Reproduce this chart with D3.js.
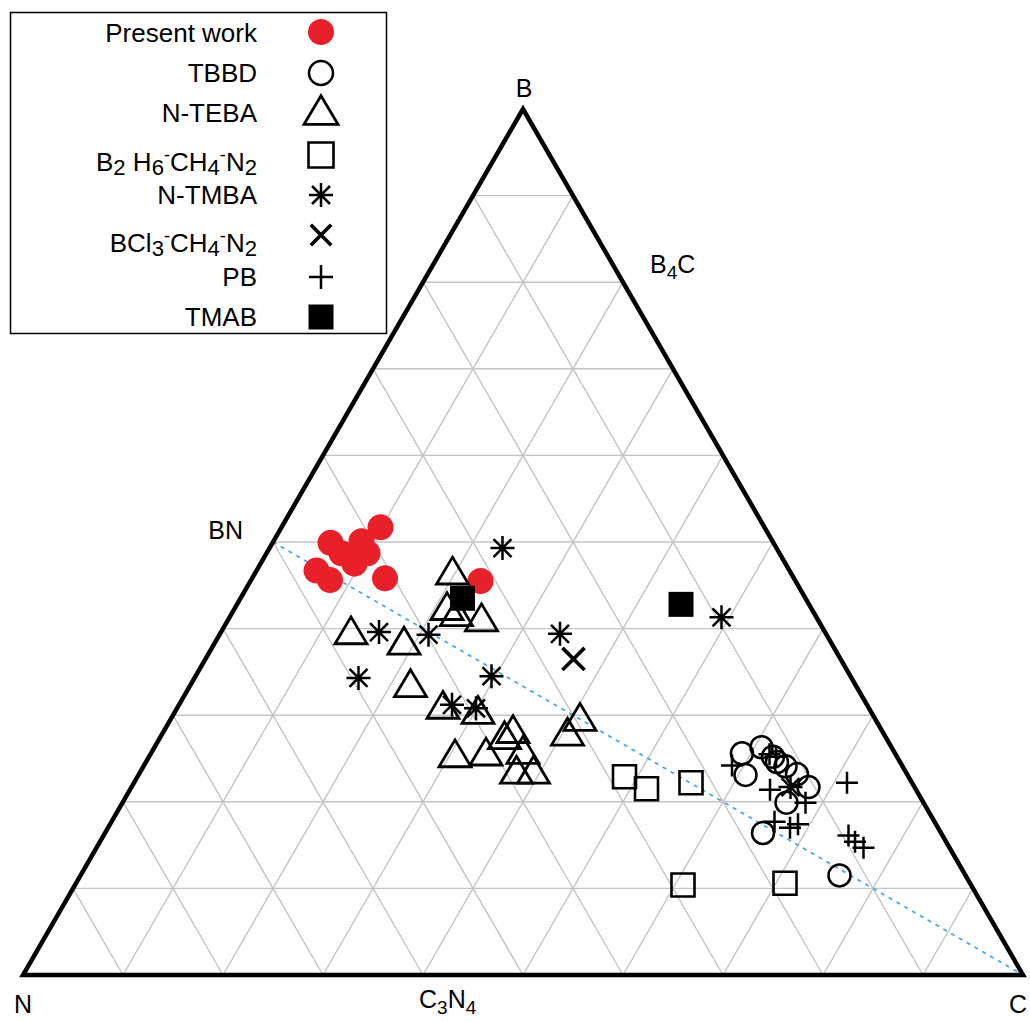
<!DOCTYPE html>
<html>
<head>
<meta charset="utf-8">
<script src="https://cdn.jsdelivr.net/npm/d3@7/dist/d3.min.js"></script>
<style>
  body { margin: 0; background: #fff; }
  text { font-family: "Liberation Sans", Arial, sans-serif; fill: #000; }
</style>
</head>
<body>
<div id="chart"></div>
<script>
// compositions, [B at.%, C at.%] (N is the rest)
const presentWork = [[51.7, 9.9], [49.9, 5.8], [50.1, 8.8], [48.7, 7.5], [48.7, 10.1], [47.5, 9.4],
  [46.7, 6.0], [45.6, 7.9], [45.8, 13.3], [45.5, 23.0], [48.3, 8.6]]
const tbbd = [[25.6, 59.1], [26.3, 60.7], [23.1, 60.7], [25.2, 62.4], [24.6, 63.1], [24.1, 64.2],
  [23.2, 65.8], [21.7, 67.7], [19.9, 66.4], [16.4, 65.8], [11.5, 75.9]]
const nteba = [[46.7, 19.6], [42.6, 21.1], [41.9, 22.4], [41.3, 25.2], [39.8, 12.9], [38.6, 18.8],
  [33.7, 21.9], [31.2, 26.4], [30.6, 30.2], [27.7, 34.3], [28.4, 34.8], [25.6, 30.4], [25.8, 33.4],
  [26.0, 37.0], [23.7, 37.5], [23.7, 39.2], [29.8, 40.8], [28.1, 40.4]]
const b2h6 = [[22.9, 48.7], [21.5, 51.6], [22.2, 55.7], [10.4, 60.8], [10.6, 70.9]]
const ntmba = [[49.3, 23.3], [39.6, 15.8], [39.3, 20.9], [34.3, 16.4], [34.5, 29.6], [31.2, 27.3],
  [30.8, 29.9], [39.4, 34.0], [41.3, 49.2], [21.7, 65.9]]
const bcl3 = [[36.5, 36.8]]
const pb = [[24.2, 58.8], [25.5, 61.9], [25.2, 62.7], [21.4, 64.0], [19.9, 68.3], [17.7, 66.3],
  [17.0, 68.2], [17.4, 68.8], [22.2, 71.3], [16.1, 74.5], [15.4, 75.5], [14.7, 76.7]]
const tmab = [[43.5, 22.2], [42.8, 44.4]]

// legend labels: [text, style] pieces, "sub" / "sup" pieces get shifted
const legendLabels = [
  [["Present work", ""]],
  [["TBBD", ""]],
  [["N-TEBA", ""]],
  [["B", ""], ["2", "sub"], [" H", ""], ["6", "sub"], ["-", "sup"], ["CH", ""], ["4", "sub"], ["-", "sup"], ["N", ""], ["2", "sub"]],
  [["N-TMBA", ""]],
  [["BCl", ""], ["3", "sub"], ["-", "sup"], ["CH", ""], ["4", "sub"], ["-", "sup"], ["N", ""], ["2", "sub"]],
  [["PB", ""]],
  [["TMAB", ""]]
]

const W = 1030, H = 1022
const svg = d3.select("#chart").append("svg")
  .attr("width", W).attr("height", H)

// ternary mapping: y from B, x from C + B/2
const yScale = d3.scaleLinear().domain([0, 100]).range([975, 109])
const xScale = d3.scaleLinear().domain([0, 100]).range([23, 1023])
const px = (b, c) => xScale(c + b / 2)
const py = (b) => yScale(b)

// grid lines every 10 %
const grid = svg.append("g").attr("stroke", "#c4c4c4").attr("stroke-width", 1.4)
for (let k = 10; k < 100; k += 10) {
  const segs = [
    [[k, 0], [k, 100 - k]],        // constant B
    [[0, k], [100 - k, k]],        // constant C
    [[0, 100 - k], [100 - k, 0]]   // constant N
  ]
  segs.forEach(s => {
    grid.append("line")
      .attr("x1", px(s[0][0], s[0][1])).attr("y1", py(s[0][0]))
      .attr("x2", px(s[1][0], s[1][1])).attr("y2", py(s[1][0]))
  })
}

// BN - C tie line
svg.append("line")
  .attr("x1", px(50, 0)).attr("y1", py(50))
  .attr("x2", px(0, 100)).attr("y2", py(0))
  .attr("stroke", "#45a6e6").attr("stroke-width", 1.8)
  .attr("stroke-dasharray", "4,5")

// outer triangle
const corners = [[0, 0], [100, 0], [0, 100]]
svg.append("path")
  .attr("d", d3.line()(corners.map(d => [px(d[0], d[1]), py(d[0])])) + "Z")
  .attr("fill", "none").attr("stroke", "#000").attr("stroke-width", 4.5)
  .attr("stroke-linejoin", "miter")

// marker paths
function markerPath(type, s) {
  const p = d3.path()
  const h = s / 2
  if (type === "circle") {
    p.moveTo(h, 0); p.arc(0, 0, h, 0, 2 * Math.PI)
  } else if (type === "triangle") {
    const th = s * 0.84
    p.moveTo(0, -th / 2); p.lineTo(h, th / 2); p.lineTo(-h, th / 2); p.closePath()
  } else if (type === "square") {
    p.rect(-h, -h, s, s)
  } else if (type === "asterisk") {
    const d = h * 0.75
    p.moveTo(0, -h); p.lineTo(0, h)
    p.moveTo(-h, 0); p.lineTo(h, 0)
    p.moveTo(-d, -d); p.lineTo(d, d)
    p.moveTo(-d, d); p.lineTo(d, -d)
  } else if (type === "x") {
    const d = h * 0.85
    p.moveTo(-d, -d); p.lineTo(d, d)
    p.moveTo(-d, d); p.lineTo(d, -d)
  } else if (type === "plus") {
    p.moveTo(0, -h); p.lineTo(0, h)
    p.moveTo(-h, 0); p.lineTo(h, 0)
  }
  return p.toString()
}

const series = [
  {name: "Present work", data: presentWork, type: "circle", size: 26, fill: "#e8202a", stroke: "none", sw: 0},
  {name: "TBBD", data: tbbd, type: "circle", size: 22, fill: "none", stroke: "#000", sw: 2.5},
  {name: "N-TEBA", data: nteba, type: "triangle", size: 32, fill: "none", stroke: "#000", sw: 2.8},
  {name: "B2H6", data: b2h6, type: "square", size: 23, fill: "none", stroke: "#000", sw: 2.6},
  {name: "N-TMBA", data: ntmba, type: "asterisk", size: 24, fill: "none", stroke: "#000", sw: 2.5},
  {name: "BCl3", data: bcl3, type: "x", size: 26, fill: "none", stroke: "#000", sw: 3.6},
  {name: "PB", data: pb, type: "plus", size: 22, fill: "none", stroke: "#000", sw: 2.5},
  {name: "TMAB", data: tmab, type: "square", size: 25, fill: "#000", stroke: "none", sw: 0}
]

const marks = svg.append("g")
series.forEach(s => {
  marks.append("g").selectAll("path")
    .data(s.data)
    .enter().append("path")
    .attr("transform", d => "translate(" + px(d[0], d[1]) + "," + py(d[0]) + ")")
    .attr("d", markerPath(s.type, s.size))
    .attr("fill", s.fill).attr("stroke", s.stroke).attr("stroke-width", s.sw)
})

// helper for text with subscripts
function richText(g, pieces, fs) {
  let shift = 0
  pieces.forEach(pc => {
    const target = pc[1] === "sub" ? fs * 0.15 : pc[1] === "sup" ? -fs * 0.38 : 0
    const t = g.append("tspan").text(pc[0]).attr("dy", target - shift)
    if (pc[1] === "sub") t.attr("font-size", fs * 0.85)
    if (pc[1] === "sup") t.attr("font-size", fs * 0.7)
    shift = target
  })
}

// vertex labels
const fsL = 25
svg.append("text").attr("x", 524).attr("y", 97).attr("text-anchor", "middle")
  .attr("font-size", fsL).text("B")
svg.append("text").attr("x", 243).attr("y", 539).attr("text-anchor", "end")
  .attr("font-size", fsL).text("BN")
svg.append("text").attr("x", 14).attr("y", 1013).attr("font-size", fsL).text("N")
svg.append("text").attr("x", 1009).attr("y", 1013).attr("font-size", fsL).text("C")

function subLabel(x, y, parts) {
  const t = svg.append("text").attr("x", x).attr("y", y).attr("font-size", fsL)
  parts.forEach(pc => {
    const ts = t.append("tspan").text(pc[0]).attr("dy", pc[1])
    if (pc[2]) ts.attr("font-size", 19)
  })
}
subLabel(650, 273, [["B", 0, false], ["4", 6, true], ["C", -6, false]])
subLabel(419, 1008, [["C", 0, false], ["3", 6, true], ["N", -6, false], ["4", 6, true]])

// legend
const legend = svg.append("g")
legend.append("rect")
  .attr("x", 10.5).attr("y", 12.5).attr("width", 376).attr("height", 321)
  .attr("fill", "#fff").attr("stroke", "#000").attr("stroke-width", 1.5)

const legendSym = [32, 73, 110, 155, 195, 235, 277, 317]
const legendBase = [42, 82, 122, 171, 204, 252, 286, 326]
const legendSize = [26, 24, 34, 25, 24, 24, 24, 25]
series.forEach((s, i) => {
  legend.append("path")
    .attr("transform", "translate(321," + legendSym[i] + ")")
    .attr("d", markerPath(s.type, legendSize[i]))
    .attr("fill", s.fill).attr("stroke", s.stroke).attr("stroke-width", s.sw)
  const t = legend.append("text")
    .attr("x", 257).attr("y", legendBase[i])
    .attr("text-anchor", "end").attr("font-size", 26)
  richText(t, legendLabels[i], 26)
})
</script>
</body>
</html>
